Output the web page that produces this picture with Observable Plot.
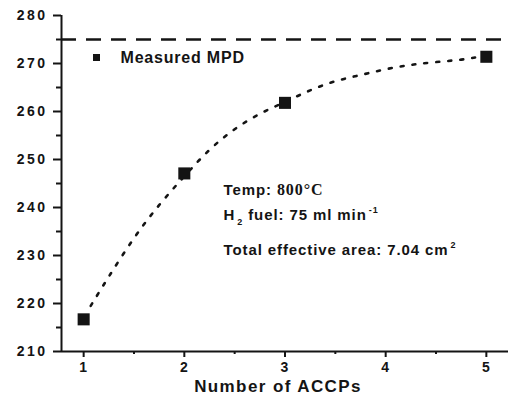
<!DOCTYPE html>
<html>
<head>
<meta charset="utf-8">
<script src="https://cdn.jsdelivr.net/npm/d3@7"></script>
<script src="https://cdn.jsdelivr.net/npm/@observablehq/plot@0.6"></script>
<style>
  html, body { margin: 0; padding: 0; background: #fff; }
  #chart { width: 508px; height: 400px; }
</style>
</head>
<body>
<div id="chart"></div>
<script>
// ---- data ----
const accps = [1, 2, 3, 5];
const mpd = [216.7, 247.1, 261.8, 271.4];
const fitX = [1.07, 1.25, 1.5, 1.75, 2.0, 2.25, 2.5, 2.75, 3.0, 3.25, 3.5, 3.75, 4.0, 4.25, 4.5, 4.75, 4.9];
const fitY = [219.5, 225.6, 233.6, 240.5, 246.5, 252.0, 256.3, 259.5, 262.0, 264.4, 266.3, 267.6, 268.8, 269.7, 270.3, 270.8, 271.3];
const limitMPD = 275;
const xTicks = [1, 2, 3, 4, 5];
const xMinorTicks = [1.5, 2.5, 3.5, 4.5];
const yTicks = [210, 220, 230, 240, 250, 260, 270, 280];
const yMinorTicks = [215, 225, 235, 245, 255, 265, 275];
const legendLabel = "Measured MPD";
const xTitle = "Number of ACCPs";
const noteTemp = "Temp: ~{800°C}";
const noteFuel = "H_{2} fuel: 75 ml min^{-1}";
const noteArea = "Total effective area: 7.04 cm^{2}";

const points = accps.map((x, i) => ({x, y: mpd[i]}));
const fit = fitX.map((x, i) => ({x, y: fitY[i]}));
const ink = "#141414";
const X0 = 0.78, X1 = 5.22, Y0 = 210, Y1 = 280;
const noteOpts = {frameAnchor: "top-left", dx: 162, textAnchor: "start", lineAnchor: "middle", fontSize: 15, fontWeight: "bold", fill: ink};

const chart = Plot.plot({
  width: 508,
  height: 400,
  marginLeft: 61,
  marginRight: 0,
  marginTop: 15,
  marginBottom: 49,
  x: {domain: [X0, X1]},
  y: {domain: [Y0, Y1]},
  style: {fontFamily: "'Liberation Sans', Arial, sans-serif", color: ink, background: "#fff"},
  marks: [
    Plot.ruleY([limitMPD], {stroke: ink, strokeWidth: 2.6, strokeDasharray: "15,10"}),
    Plot.line(fit, {x: "x", y: "y", curve: "natural", stroke: ink, strokeWidth: 2.6, strokeDasharray: "3,9"}),
    Plot.dot(points, {x: "x", y: "y", symbol: "square", r: 6.8, fill: ink, stroke: "none"}),
    // legend
    Plot.dot([legendLabel], {frameAnchor: "top-left", dx: 35, dy: 42, symbol: "square", r: 3.95, fill: ink, stroke: "none"}),
    Plot.text([legendLabel], {frameAnchor: "top-left", dx: 59, dy: 42, textAnchor: "start", lineAnchor: "middle", fontSize: 16, fontWeight: "bold", fill: ink}),
    // annotations
    Plot.text([noteTemp], {...noteOpts, dy: 175}),
    Plot.text([noteFuel], {...noteOpts, dy: 200}),
    Plot.text([noteArea], {...noteOpts, dy: 235}),
    // axes
    Plot.axisY({ticks: yTicks, tickFormat: "d", tickSize: 8, tickPadding: 6, label: null, fontSize: 14, fontWeight: "bold", strokeWidth: 2}),
    Plot.axisY({ticks: yMinorTicks, tickSize: 5, tickFormat: () => "", label: null, strokeWidth: 2}),
    Plot.axisX({ticks: xTicks, tickFormat: "d", tickSize: 6, tickPadding: 5, label: null, fontSize: 14, fontWeight: "bold", strokeWidth: 2}),
    Plot.axisX({ticks: xMinorTicks, tickSize: 3, tickFormat: () => "", label: null, strokeWidth: 2}),
    Plot.ruleX([X0], {stroke: ink, strokeWidth: 2}),
    Plot.ruleY([Y0], {stroke: ink, strokeWidth: 2}),
    Plot.text([xTitle], {frameAnchor: "bottom", dx: -7, dy: 40, fontSize: 17, fontWeight: "bold", fill: ink})
  ]
});
document.getElementById("chart").append(chart);

const svg = d3.select(chart);
svg.selectAll('[aria-label="y-axis tick label"] text').style("letter-spacing", "2.5px");
svg.selectAll('[aria-label="x-axis tick label"] text').style("letter-spacing", "1px");
svg.selectAll("text").each(function () {
  const t = this.textContent;
  if (t === legendLabel) d3.select(this).style("letter-spacing", "0.8px");
  if (t === xTitle) d3.select(this).style("letter-spacing", "1.4px");
});

// rich text: _{sub} ^{sup} ~{serif}
svg.selectAll("text").each(function () {
  const s = this.textContent;
  if (!/[_^~]\{/.test(s)) return;
  const el = d3.select(this);
  el.style("letter-spacing", "0.9px");
  el.text(null);
  const re = /([_^~])\{([^}]*)\}|([^_^~]+)/g;
  let m, shift = 0;
  while ((m = re.exec(s))) {
    let target = 0;
    const ts = el.append("tspan");
    if (m[1] === "_") { target = 5; ts.attr("font-size", 9).attr("dx", 2).text(m[2]); }
    else if (m[1] === "^") { target = -7; ts.attr("font-size", 9).attr("dx", 2).text(m[2]); }
    else if (m[1] === "~") { ts.attr("font-family", "'Liberation Serif', 'Times New Roman', serif").attr("font-size", 16).attr("font-weight", "bold").text(m[2]); }
    else { ts.text(m[3]); }
    if (target !== shift) { ts.attr("dy", target - shift); shift = target; }
  }
});
</script>
</body>
</html>
